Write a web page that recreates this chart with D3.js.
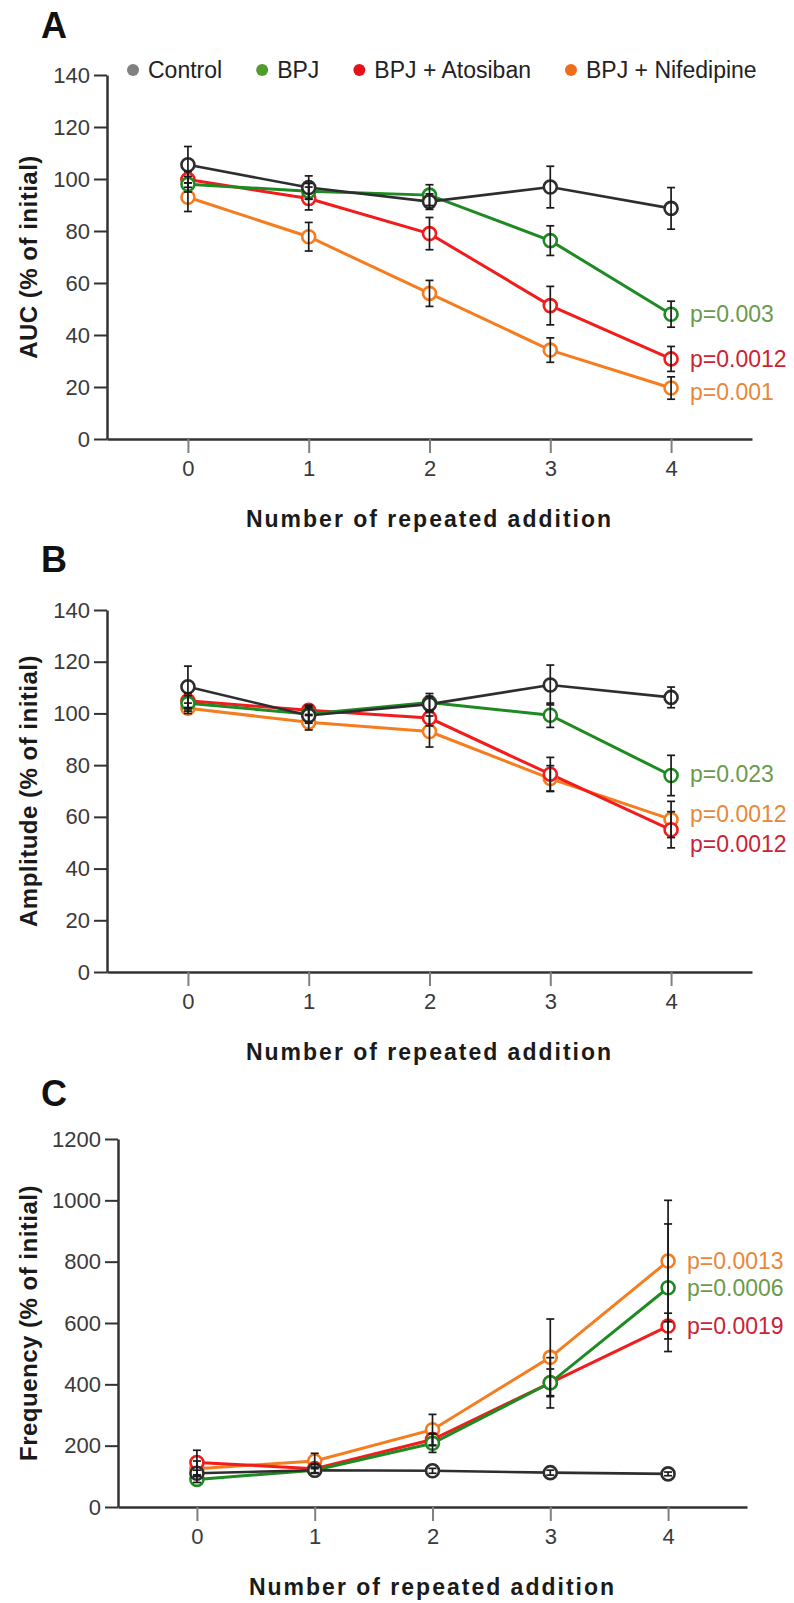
<!DOCTYPE html>
<html>
<head>
<meta charset="utf-8">
<script src="https://cdn.jsdelivr.net/npm/d3@7"></script>
<style>
  body { margin: 0; background: #fff; }
  svg { display: block; font-family: "Liberation Sans", Arial, sans-serif; }
</style>
</head>
<body>
<svg id="chart"></svg>
<script>
const width = 794;
const height = 1603;

// categories / series
const xCats = [0, 1, 2, 3, 4];
const seriesNames = ['Control', 'BPJ', 'BPJ + Atosiban', 'BPJ + Nifedipine'];

// A: AUC (% of initial), order = seriesNames
const aucMeans = [
    [105.5, 96.7, 91.3, 96.9, 88.7],
    [98, 95.3, 93.8, 76.3, 48],
    [99.8, 92.5, 79, 51.3, 30.8],
    [93, 77.8, 56, 34.2, 19.6]
];
const aucErrs = [
    [7, 4.5, 3, 8, 8],
    [3, 3, 4, 5.7, 5],
    [3, 4.4, 6.2, 7.4, 4.8],
    [5.5, 5.5, 5, 4.7, 4.3]
];
const aucP = ['', 'p=0.003', 'p=0.0012', 'p=0.001'];

// B: Amplitude (% of initial)
const ampMeans = [
    [110.3, 99.2, 103.6, 111, 106.2],
    [103.9, 99.8, 104.2, 99.3, 76],
    [104.9, 101.2, 98.2, 76.5, 55],
    [102, 96.6, 93, 74.8, 59]
];
const ampErrs = [
    [8, 3, 3, 7.7, 4],
    [3, 3, 3.5, 4.7, 7.8],
    [3, 2, 3, 6.5, 7],
    [2, 3, 6, 5, 7]
];
const ampP = ['', 'p=0.023', 'p=0.0012', 'p=0.0012'];

// C: Frequency (% of initial)
const freqMeans = [
    [110, 120, 118, 112, 108],
    [90, 120, 208, 405, 715],
    [145, 125, 220, 405, 590],
    [125, 150, 252, 488, 802]
];
const freqErrs = [
    [10, 8, 8, 8, 6],
    [10, 10, 30, 82, 208],
    [40, 15, 20, 45, 42],
    [25, 25, 50, 125, 198]
];
const freqP = ['', 'p=0.0006', 'p=0.0019', 'p=0.0013'];

const lineColors = ['#2e2e2e', '#1e8a22', '#f21c1c', '#f57d1f'];
const dotColors = ['#808080', '#519b2d', '#e5121b', '#ef6c1c'];
const pColors = ['#333', '#6b9a4b', '#cc2233', '#e8873a'];

// panel layout
const panels = [
    { label: 'A', labelY: 38, left: 107, right: 752, top: 75, bottom: 439, yMax: 140, yStep: 20,
      title: 'AUC (% of initial)', means: aucMeans, errs: aucErrs, pvals: aucP, pNudge: [0, 0, 0, 4] },
    { label: 'B', labelY: 572, left: 107, right: 752, top: 610, bottom: 972, yMax: 140, yStep: 20,
      title: 'Amplitude (% of initial)', means: ampMeans, errs: ampErrs, pvals: ampP, pNudge: [0, -2, 14, -6] },
    { label: 'C', labelY: 1106, left: 118, right: 747, top: 1139, bottom: 1507, yMax: 1200, yStep: 200,
      title: 'Frequency (% of initial)', means: freqMeans, errs: freqErrs, pvals: freqP, pNudge: [0, 0, 0, 0] }
];

const svg = d3.select('#chart')
    .attr('width', width)
    .attr('height', height);

panels.forEach(p => {
    const g = svg.append('g');

    const x = d3.scaleLinear().domain([-0.67, 4.67]).range([p.left, p.right]);
    const y = d3.scaleLinear().domain([0, p.yMax]).range([p.bottom, p.top]);

    // panel letter
    g.append('text')
        .attr('x', 41)
        .attr('y', p.labelY)
        .style('font-size', '36px')
        .style('font-weight', 'bold')
        .style('fill', '#111')
        .text(p.label);

    // y axis
    const yAxis = g.append('g')
        .attr('transform', `translate(${p.left},0)`)
        .call(d3.axisLeft(y)
            .tickValues(d3.range(0, p.yMax + 1, p.yStep))
            .tickFormat(d3.format('d'))
            .tickSize(13)
            .tickSizeOuter(0)
            .tickPadding(4));
    yAxis.select('.domain').attr('stroke', '#333').attr('stroke-width', 2.5);
    yAxis.selectAll('.tick line').attr('stroke', '#333').attr('stroke-width', 2);
    yAxis.selectAll('.tick text')
        .style('font-size', '22px')
        .style('font-family', '"Liberation Sans", Arial, sans-serif')
        .style('fill', '#3a3a3a');

    // x axis
    const xAxis = g.append('g')
        .attr('transform', `translate(0,${p.bottom})`)
        .call(d3.axisBottom(x)
            .tickValues(xCats)
            .tickFormat(d3.format('d'))
            .tickSize(14)
            .tickSizeOuter(0)
            .tickPadding(7));
    xAxis.select('.domain').attr('stroke', '#333').attr('stroke-width', 2.5);
    xAxis.selectAll('.tick line').attr('stroke', '#808080').attr('stroke-width', 2);
    xAxis.selectAll('.tick text')
        .style('font-size', '22px')
        .style('font-family', '"Liberation Sans", Arial, sans-serif')
        .style('fill', '#3a3a3a');

    // axis titles
    g.append('text')
        .attr('x', (p.left + p.right) / 2)
        .attr('y', p.bottom + 88)
        .attr('text-anchor', 'middle')
        .style('font-size', '23px')
        .style('font-weight', 'bold')
        .style('letter-spacing', '2px')
        .style('fill', '#1a1a1a')
        .text('Number of repeated addition');

    g.append('text')
        .attr('transform', `translate(37,${(p.top + p.bottom) / 2}) rotate(-90)`)
        .attr('text-anchor', 'middle')
        .style('font-size', '24px')
        .style('font-weight', 'bold')
        .style('letter-spacing', '0.5px')
        .style('fill', '#1a1a1a')
        .text(p.title);

    const line = d3.line()
        .x((d, i) => x(xCats[i]))
        .y(d => y(d));

    const order = [3, 2, 1, 0];

    order.forEach(s => {
        g.append('path')
            .datum(p.means[s])
            .attr('fill', 'none')
            .attr('stroke', lineColors[s])
            .attr('stroke-width', s === 0 ? 2.6 : 3)
            .attr('d', line);
    });

    order.forEach(s => {
        g.selectAll(null)
            .data(p.means[s])
            .enter().append('circle')
            .attr('cx', (d, i) => x(xCats[i]))
            .attr('cy', d => y(d))
            .attr('r', 6.5)
            .attr('fill', '#fff')
            .attr('stroke', lineColors[s])
            .attr('stroke-width', 2.6);
    });

    // error bars on top
    order.forEach(s => {
        const eb = g.selectAll(null)
            .data(p.means[s].map((m, i) => ({ m, e: p.errs[s][i], i })))
            .enter().append('g')
            .attr('stroke', '#1a1a1a')
            .attr('stroke-width', 1.7);
        eb.append('line')
            .attr('x1', d => x(xCats[d.i])).attr('x2', d => x(xCats[d.i]))
            .attr('y1', d => y(d.m - d.e)).attr('y2', d => y(d.m + d.e));
        eb.append('line')
            .attr('x1', d => x(xCats[d.i]) - 4).attr('x2', d => x(xCats[d.i]) + 4)
            .attr('y1', d => y(d.m + d.e)).attr('y2', d => y(d.m + d.e));
        eb.append('line')
            .attr('x1', d => x(xCats[d.i]) - 4).attr('x2', d => x(xCats[d.i]) + 4)
            .attr('y1', d => y(d.m - d.e)).attr('y2', d => y(d.m - d.e));
    });

    // p values beside the last points
    [1, 2, 3].forEach(s => {
        const last = p.means[s][xCats.length - 1];
        g.append('text')
            .attr('x', x(xCats[xCats.length - 1]) + 19)
            .attr('y', y(last) + p.pNudge[s])
            .attr('dy', '0.36em')
            .style('font-size', '23px')
            .style('fill', pColors[s])
            .text(p.pvals[s]);
    });
});

// legend at top of panel A
const legend = svg.append('g').attr('transform', 'translate(0,70)');
let lx = 133;
seriesNames.forEach((name, i) => {
    legend.append('circle')
        .attr('cx', lx)
        .attr('cy', 0)
        .attr('r', 6)
        .attr('fill', dotColors[i]);
    const t = legend.append('text')
        .attr('x', lx + 15)
        .attr('y', 0)
        .attr('dy', '0.36em')
        .style('font-size', '23px')
        .style('fill', '#222')
        .text(name);
    lx += 15 + t.node().getComputedTextLength() + 40;
});
</script>
</body>
</html>
